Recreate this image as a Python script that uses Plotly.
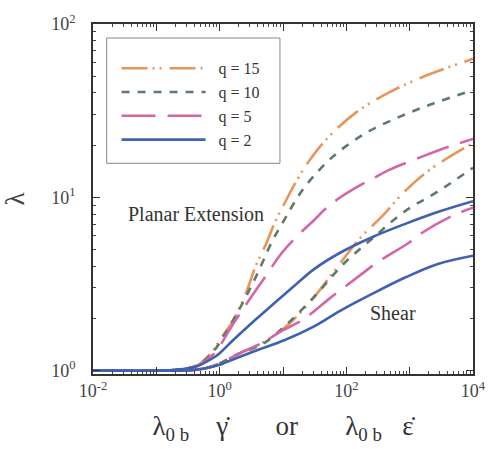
import plotly.graph_objects as go

# ---------------- data ----------------
q_labels = ["q = 15", "q = 10", "q = 5", "q = 2"]

# Planar extension curves
pe_q15_x = [0.01, 0.1, 0.2, 0.44, 0.81, 1.0, 1.64, 2.6, 3.7, 5.3, 7.5, 10.7, 15.3, 24.3, 49, 143, 475, 1950, 10000]
pe_q15_y = [1.0, 1.0, 1.01, 1.07, 1.32, 1.5, 1.95, 2.8, 4.0, 5.3, 7.2, 9.3, 11.9, 15.7, 21.7, 30.9, 40.3, 50.9, 63.0]

pe_q10_x = [0.01, 0.1, 0.2, 0.44, 0.81, 1.0, 1.43, 2.03, 3.7, 6.8, 10.7, 15.3, 24.3, 63, 204, 672, 2180, 10000]
pe_q10_y = [1.0, 1.0, 1.01, 1.07, 1.3, 1.45, 1.8, 2.25, 3.45, 5.6, 7.5, 9.4, 12.0, 17.3, 23.5, 29.0, 34.4, 41.5]

pe_q5_x = [0.01, 0.1, 0.2, 0.44, 0.81, 1.0, 1.43, 2.6, 4.75, 9.7, 17, 30, 49, 84, 164, 260, 475, 1530, 4000, 10000]
pe_q5_y = [1.0, 1.0, 1.01, 1.06, 1.25, 1.38, 1.72, 2.4, 3.3, 4.8, 6.0, 7.3, 8.7, 10.1, 11.7, 12.8, 14.4, 17.1, 19.5, 21.7]

pe_q2_x = [0.01, 0.1, 0.2, 0.44, 0.81, 1.0, 1.64, 3.7, 7.5, 15.3, 31, 81, 260, 832, 3000, 10000]
pe_q2_y = [1.0, 1.0, 1.01, 1.06, 1.19, 1.26, 1.5, 1.97, 2.47, 3.1, 3.85, 4.8, 5.9, 7.0, 8.3, 9.5]

# Shear curves
sh_q15_x = [0.01, 0.1, 0.3, 0.6, 1.0, 2.0, 4.75, 10.7, 27.9, 70, 164, 372, 832, 2180, 10000]
sh_q15_y = [1.0, 1.0, 1.0, 1.03, 1.1, 1.25, 1.45, 1.77, 2.53, 3.91, 5.8, 7.8, 10.8, 14.6, 20.5]

sh_q10_x = [0.01, 0.1, 0.3, 0.6, 1.0, 2.0, 4.75, 11.9, 34.5, 90, 260, 832, 2790, 10000]
sh_q10_y = [1.0, 1.0, 1.0, 1.03, 1.1, 1.25, 1.42, 1.87, 2.78, 4.12, 5.8, 8.28, 10.8, 14.8]

sh_q5_x = [0.01, 0.1, 0.3, 0.6, 1.0, 2.0, 4.75, 9.7, 20, 31, 54, 174, 290, 1000, 1530, 5000, 10000]
sh_q5_y = [1.0, 1.0, 1.0, 1.03, 1.1, 1.25, 1.45, 1.7, 1.95, 2.2, 2.6, 3.6, 4.15, 5.5, 6.2, 7.9, 8.7]

sh_q2_x = [0.01, 0.1, 0.3, 0.6, 1.0, 1.28, 3.7, 10.7, 31, 81, 260, 832, 2790, 10000]
sh_q2_y = [1.0, 1.0, 1.0, 1.03, 1.08, 1.12, 1.3, 1.5, 1.8, 2.22, 2.78, 3.43, 4.12, 4.6]

x_tickvals = [0.01, 0.1, 1, 10, 100, 1000, 10000]
x_ticktext = ["10<sup>-2</sup>", "", "10<sup>0</sup>", "", "10<sup>2</sup>", "", "10<sup>4</sup>"]
y_tickvals = [1, 10, 100]
y_ticktext = ["10<sup>0</sup>", "10<sup>1</sup>", "10<sup>2</sup>"]

# minor ticks: digits 2..9 within each decade of the axes
x_minor = [m * d for d in x_tickvals[:-1] for m in range(2, 10)]
y_minor = [m * d for d in y_tickvals[:-1] for m in range(2, 10)]

# ---------------- styles ----------------
SERIF = "Liberation Serif"
styles = {
    "q = 15": dict(color="#E8955A", dash="26px,5px,2px,5px,2px,8px"),
    "q = 10": dict(color="#5E7A68", dash="8px,8px"),
    "q = 5": dict(color="#D466A8", dash="34px,12px"),
    "q = 2": dict(color="#3E62B0", dash="solid"),
}

planar = {
    "q = 15": (pe_q15_x, pe_q15_y),
    "q = 10": (pe_q10_x, pe_q10_y),
    "q = 5": (pe_q5_x, pe_q5_y),
    "q = 2": (pe_q2_x, pe_q2_y),
}
shear = {
    "q = 15": (sh_q15_x, sh_q15_y),
    "q = 10": (sh_q10_x, sh_q10_y),
    "q = 5": (sh_q5_x, sh_q5_y),
    "q = 2": (sh_q2_x, sh_q2_y),
}

fig = go.Figure()
for lab in q_labels:
    st = styles[lab]
    for data, show in ((planar, True), (shear, False)):
        xs, ys = data[lab]
        fig.add_trace(go.Scatter(
            x=xs, y=ys, mode="lines", name="\u00a0\u00a0" + lab, legendgroup=lab, showlegend=show,
            line=dict(color=st["color"], dash=st["dash"], width=2.6, shape="spline", smoothing=1.0),
        ))

axis_common = dict(
    type="log", showgrid=False, zeroline=False,
    showline=True, linecolor="#333333", linewidth=1.6, mirror="allticks",
    ticks="inside", ticklen=7, tickwidth=1.2, tickcolor="#333333",
    tickfont=dict(family=SERIF, size=18, color="#444444"),
)

fig.update_xaxes(
    **axis_common, range=[-2, 4], tickmode="array", tickvals=x_tickvals, ticktext=x_ticktext,
    minor=dict(tickmode="array", tickvals=x_minor, ticks="inside", ticklen=3, tickwidth=1,
               tickcolor="#444444", showgrid=False),
    title=dict(
        text=("λ<sub>0 b</sub>\u00a0\u00a0\u00a0\u00a0γ̇" + "\u00a0" * 7 + "or" + "\u00a0" * 7
              + "λ<sub>0 b</sub>\u00a0\u00a0\u00a0ε̇"),
        font=dict(family=SERIF, size=27, color="#333333"), standoff=16),
)
fig.update_yaxes(
    **axis_common, range=[-0.02, 2], tickmode="array", tickvals=y_tickvals, ticktext=y_ticktext,
    ticklabelstandoff=12,
    minor=dict(tickmode="array", tickvals=y_minor, ticks="inside", ticklen=3, tickwidth=1,
               tickcolor="#444444", showgrid=False),
    title=dict(text="λ", font=dict(family=SERIF, size=27, color="#444444"), standoff=20),
)

fig.add_annotation(text="Planar Extension", xref="paper", yref="paper", x=0.27, y=0.458,
                   xanchor="center", yanchor="middle", showarrow=False,
                   font=dict(family=SERIF, size=20, color="#333333"))
fig.add_annotation(text="Shear", xref="paper", yref="paper", x=0.79, y=0.173,
                   xanchor="center", yanchor="middle", showarrow=False,
                   font=dict(family=SERIF, size=20, color="#333333"))

# legend frame
fig.add_shape(type="rect", xref="paper", yref="paper", x0=0.036, x1=0.492, y0=0.602, y1=0.96,
              line=dict(color="#888888", width=1), fillcolor="white", layer="above")

fig.update_layout(
    width=498, height=449,
    margin=dict(l=93, r=15, t=21, b=75),
    paper_bgcolor="white", plot_bgcolor="white",
    showlegend=True,
    legend=dict(x=0.062, y=0.922, xanchor="left", yanchor="top", bgcolor="rgba(0,0,0,0)",
                borderwidth=0, itemwidth=84, tracegroupgap=0,
                font=dict(family=SERIF, size=16, color="#333333")),
)

fig.write_html("out.html")
